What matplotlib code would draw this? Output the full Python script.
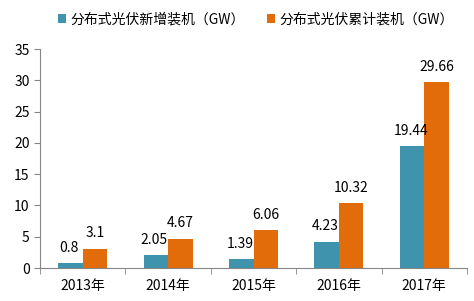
import numpy as np
import matplotlib
matplotlib.use("Agg")
from matplotlib import pyplot as plt

plt.rcParams['font.family'] = ['Noto Sans CJK SC', 'DejaVu Sans']

years = ['2013年', '2014年', '2015年', '2016年', '2017年']
new_installed = [0.8, 2.05, 1.39, 4.23, 19.44]
cumulative = [3.1, 4.67, 6.06, 10.32, 29.66]
new_labels = ['0.8', '2.05', '1.39', '4.23', '19.44']
cum_labels = ['3.1', '4.67', '6.06', '10.32', '29.66']

teal = '#3F93AC'
orange = '#E36C0A'

fig = plt.figure(figsize=(4.74, 3.01), dpi=100)
ax = fig.add_axes([40 / 474, 33 / 301, 427 / 474, 219 / 301])

x = np.arange(len(years))
w = 0.286
b1 = ax.bar(x - w / 2, new_installed, w, color=teal, label='分布式光伏新增装机（GW）')
b2 = ax.bar(x + w / 2, cumulative, w, color=orange, label='分布式光伏累计装机（GW）')

for rect, lab in zip(b1, new_labels):
    ax.annotate(lab, (rect.get_x() + rect.get_width() / 2, rect.get_height()),
                xytext=(-1, 6), textcoords='offset points', ha='center', va='bottom', fontsize=10)
for rect, lab in zip(b2, cum_labels):
    ax.annotate(lab, (rect.get_x() + rect.get_width() / 2, rect.get_height()),
                xytext=(0, 6), textcoords='offset points', ha='center', va='bottom', fontsize=10)

ax.set_xlim(-0.5, len(years) - 0.5)
ax.set_ylim(0, 35)
ax.set_yticks(range(0, 36, 5))
ax.set_xticks(x)
ax.set_xticklabels(years)
ax.set_xticks(np.arange(-0.5, len(years), 1), minor=True)
ax.tick_params(axis='x', which='major', length=0, labelsize=10, pad=8)
ax.tick_params(axis='x', which='minor', length=4, color='#868686')
ax.tick_params(axis='y', length=4, color='#868686', labelsize=10)

for s in ['top', 'right']:
    ax.spines[s].set_visible(False)
ax.spines['left'].set_color('#868686')
ax.spines['bottom'].set_color('#868686')

fig.legend(handles=[b1, b2], loc='upper center', bbox_to_anchor=(0.54, 1.0), ncol=2,
           frameon=False, fontsize=10, handlelength=0.6, handleheight=0.6,
           handletextpad=0.3, columnspacing=1.6)

fig.savefig('out.png', dpi=100)
